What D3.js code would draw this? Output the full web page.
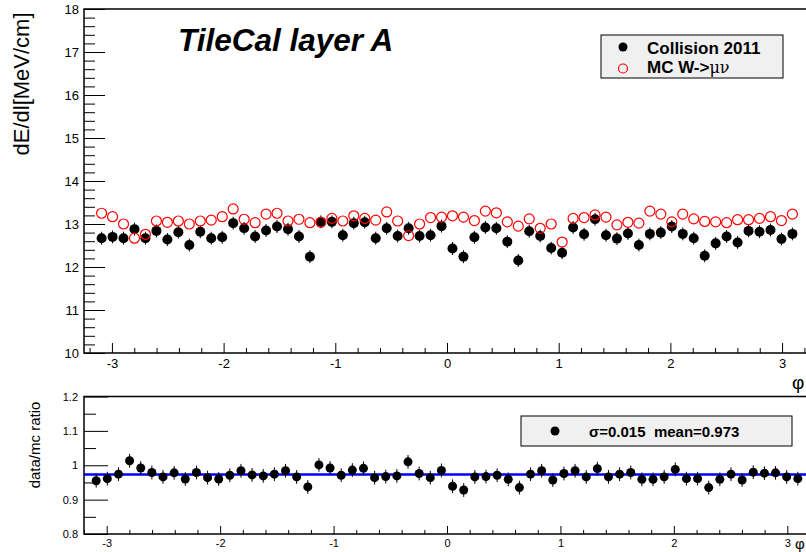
<!DOCTYPE html>
<html>
<head>
<meta charset="utf-8">
<script src="https://cdn.jsdelivr.net/npm/d3@7"></script>
<style>
  body { margin: 0; background: #fff; }
  svg { display: block; font-family: "Liberation Sans", Arial, Helvetica, sans-serif; }
</style>
</head>
<body>
<div class="display"></div>
<script>
// dE/dl per phi bin, 64 bins from -pi to pi
const dataValues = [12.67, 12.70, 12.67, 12.88, 12.67, 12.84, 12.64, 12.81, 12.51, 12.82,
    12.67, 12.69, 13.02, 12.90, 12.71, 12.85, 12.94, 12.88, 12.71, 12.24,
    13.05, 13.05, 12.74, 13.02, 13.04, 12.67, 12.90, 12.72, 12.90, 12.72,
    12.74, 12.95, 12.43, 12.24, 12.69, 12.92, 12.90, 12.59, 12.15, 12.83,
    12.72, 12.44, 12.33, 12.92, 12.76, 13.11, 12.74, 12.66, 12.78, 12.51,
    12.77, 12.80, 12.94, 12.77, 12.67, 12.26, 12.55, 12.71, 12.57, 12.84,
    12.82, 12.86, 12.65, 12.77];
const mcValues = [13.25, 13.17, 13.00, 12.67, 12.76, 13.07, 13.04, 13.07, 13.00, 13.07,
    13.09, 13.17, 13.35, 13.11, 13.03, 13.23, 13.25, 13.07, 13.11, 13.03,
    13.04, 13.13, 13.07, 13.19, 13.13, 13.09, 13.28, 13.07, 12.73, 13.00,
    13.15, 13.16, 13.19, 13.16, 13.08, 13.30, 13.26, 13.05, 12.95, 13.12,
    12.90, 13.00, 12.58, 13.13, 13.15, 13.21, 13.16, 12.98, 13.04, 13.02,
    13.30, 13.23, 13.05, 13.23, 13.12, 13.06, 13.05, 13.03, 13.10, 13.10,
    13.13, 13.17, 13.08, 13.23];
const ratioValues = [0.955, 0.961, 0.974, 1.013, 0.992, 0.979, 0.966, 0.978, 0.960, 0.979,
    0.964, 0.960, 0.971, 0.984, 0.972, 0.969, 0.974, 0.984, 0.966, 0.937,
    1.001, 0.992, 0.971, 0.986, 0.991, 0.964, 0.967, 0.969, 1.010, 0.976,
    0.964, 0.985, 0.939, 0.928, 0.966, 0.967, 0.971, 0.959, 0.935, 0.974,
    0.984, 0.957, 0.976, 0.984, 0.966, 0.990, 0.966, 0.974, 0.979, 0.959,
    0.959, 0.966, 0.988, 0.961, 0.961, 0.935, 0.959, 0.974, 0.957, 0.980,
    0.977, 0.978, 0.966, 0.961];
const dataErr = 0.15;
const ratioErr = 0.02;
const fitMean = 0.973;
const fitSigma = 0.015;

const nBins = 64;
const phiCenters = d3.range(nBins).map(i => -Math.PI + (i + 0.5) * 2 * Math.PI / nBins);

const xMajor = [-3, -2, -1, 0, 1, 2, 3];
const xMinor = d3.range(-32, 33, 2).map(d => d / 10).filter(d => !Number.isInteger(d));
const topYMajor = [10, 11, 12, 13, 14, 15, 16, 17, 18];
const topYMinor = d3.range(100, 181, 2).map(d => d / 10).filter(d => !Number.isInteger(d));
const botYMajor = [0.8, 0.9, 1.0, 1.1, 1.2];
const botYMinor = [0.85, 0.95, 1.05, 1.15];

const width = 806;
const height = 552;
const left = 84;
const right = 810;

const svg = d3.select('.display')
    .append('svg')
    .attr('width', width)
    .attr('height', height);

const plainNum = d => String(d);

const drawAxis = (axis, transform, size) => {
    const g = svg.append('g')
        .attr('transform', transform)
        .style('font-family', '"Liberation Sans", Arial, sans-serif')
        .style('font-size', size + 'px')
        .call(axis);
    g.select('.domain').remove();
    g.selectAll('line').attr('stroke', '#000').attr('stroke-width', 1);
    g.selectAll('text').attr('fill', '#000');
    return g;
};

// ---------- top pad ----------
const xTop = d3.scaleLinear().domain([-3.25, 3.25]).range([left, right]);
const yTop = d3.scaleLinear().domain([10, 18]).range([353, 9]);

drawAxis(d3.axisBottom(xTop).tickValues(xMajor).tickSize(-10).tickPadding(6).tickFormat(plainNum),
    'translate(0,353)', 13);
drawAxis(d3.axisBottom(xTop).tickValues(xMinor).tickSize(-5).tickFormat(''), 'translate(0,353)', 13);
drawAxis(d3.axisLeft(yTop).tickValues(topYMajor).tickSize(-21).tickPadding(5).tickFormat(plainNum),
    `translate(${left},0)`, 13);
drawAxis(d3.axisLeft(yTop).tickValues(topYMinor).tickSize(-11).tickFormat(''), `translate(${left},0)`, 13);

svg.append('rect')
    .attr('x', left).attr('y', yTop(18))
    .attr('width', right - left).attr('height', yTop(10) - yTop(18))
    .attr('fill', 'none').attr('stroke', '#000').attr('stroke-width', 1.5);

svg.append('g')
    .selectAll('line')
    .data(dataValues)
    .enter()
    .append('line')
    .attr('x1', (d, i) => xTop(phiCenters[i]))
    .attr('x2', (d, i) => xTop(phiCenters[i]))
    .attr('y1', d => yTop(d - dataErr))
    .attr('y2', d => yTop(d + dataErr))
    .attr('stroke', '#000');

svg.append('g')
    .selectAll('circle')
    .data(dataValues)
    .enter()
    .append('circle')
    .attr('cx', (d, i) => xTop(phiCenters[i]))
    .attr('cy', d => yTop(d))
    .attr('r', 5)
    .attr('fill', '#000');

svg.append('g')
    .selectAll('circle')
    .data(mcValues)
    .enter()
    .append('circle')
    .attr('cx', (d, i) => xTop(phiCenters[i]))
    .attr('cy', d => yTop(d))
    .attr('r', 5)
    .attr('fill', 'none')
    .attr('stroke', '#ff0000')
    .attr('stroke-width', 1.2);

svg.append('text')
    .attr('x', 178).attr('y', 51)
    .attr('font-size', 31.5).attr('font-weight', 'bold').attr('font-style', 'italic')
    .text('TileCal layer A');

svg.append('text')
    .attr('transform', 'translate(29,84) rotate(-90)')
    .attr('text-anchor', 'middle')
    .attr('font-size', 22)
    .text('dE/dl[MeV/cm]');

svg.append('text')
    .attr('x', 792).attr('y', 389)
    .attr('font-size', 19)
    .text('φ');

// legend top
const legTop = svg.append('g');
legTop.append('rect')
    .attr('x', 601).attr('y', 35).attr('width', 182).attr('height', 43)
    .attr('fill', '#f0f0f0').attr('stroke', '#000').attr('stroke-width', 1);
legTop.append('circle').attr('cx', 623).attr('cy', 47).attr('r', 4.5).attr('fill', '#000');
legTop.append('circle').attr('cx', 623).attr('cy', 68.5).attr('r', 4.5)
    .attr('fill', 'none').attr('stroke', '#ff0000').attr('stroke-width', 1.2);
legTop.append('text').attr('x', 647).attr('y', 54)
    .attr('font-size', 17).attr('font-weight', 'bold').text('Collision 2011');
const mcLabel = legTop.append('text').attr('x', 647).attr('y', 73).attr('font-size', 17);
mcLabel.append('tspan').attr('font-weight', 'bold').text('MC W->');
mcLabel.append('tspan').attr('font-family', '"DejaVu Serif", serif').attr('font-size', 16).text('μν');

// ---------- bottom pad ----------
const xBot = d3.scaleLinear().domain([-3.2, 3.2]).range([left, right]);
const yBot = d3.scaleLinear().domain([0.8, 1.2]).range([534, 396.5]);

drawAxis(d3.axisBottom(xBot).tickValues(xMajor).tickSize(-8).tickPadding(5).tickFormat(plainNum),
    'translate(0,534)', 11);
drawAxis(d3.axisBottom(xBot).tickValues(xMinor).tickSize(-4).tickFormat(''), 'translate(0,534)', 11);
drawAxis(d3.axisLeft(yBot).tickValues(botYMajor).tickSize(-24).tickPadding(6).tickFormat(d => d === 1 ? '1' : d3.format('.1f')(d)),
    `translate(${left},0)`, 11);
drawAxis(d3.axisLeft(yBot).tickValues(botYMinor).tickSize(-12).tickFormat(''), `translate(${left},0)`, 11);

svg.append('rect')
    .attr('x', left).attr('y', yBot(1.2))
    .attr('width', right - left).attr('height', yBot(0.8) - yBot(1.2))
    .attr('fill', 'none').attr('stroke', '#000').attr('stroke-width', 1.5);

svg.append('line')
    .attr('x1', left).attr('x2', right)
    .attr('y1', yBot(fitMean)).attr('y2', yBot(fitMean))
    .attr('stroke', '#0000ff').attr('stroke-width', 2.5);

svg.append('g')
    .selectAll('line')
    .data(ratioValues)
    .enter()
    .append('line')
    .attr('x1', (d, i) => xBot(phiCenters[i]))
    .attr('x2', (d, i) => xBot(phiCenters[i]))
    .attr('y1', d => yBot(d - ratioErr))
    .attr('y2', d => yBot(d + ratioErr))
    .attr('stroke', '#000');

svg.append('g')
    .selectAll('circle')
    .data(ratioValues)
    .enter()
    .append('circle')
    .attr('cx', (d, i) => xBot(phiCenters[i]))
    .attr('cy', d => yBot(d))
    .attr('r', 4.5)
    .attr('fill', '#000');

svg.append('text')
    .attr('transform', 'translate(40,445) rotate(-90)')
    .attr('text-anchor', 'middle')
    .attr('font-size', 15)
    .text('data/mc ratio');

svg.append('text')
    .attr('x', 795).attr('y', 549)
    .attr('font-size', 15)
    .text('φ');

const legBot = svg.append('g');
legBot.append('rect')
    .attr('x', 521).attr('y', 416).attr('width', 271).attr('height', 30)
    .attr('fill', '#f0f0f0').attr('stroke', '#000').attr('stroke-width', 1);
legBot.append('circle').attr('cx', 555).attr('cy', 431).attr('r', 4.5).attr('fill', '#000');
legBot.append('text').attr('x', 589).attr('y', 436.5)
    .attr('font-size', 15).attr('font-weight', 'bold')
    .attr('xml:space', 'preserve')
    .text(`σ=${fitSigma.toFixed(3)}  mean=${fitMean.toFixed(3)}`);
</script>
</body>
</html>
